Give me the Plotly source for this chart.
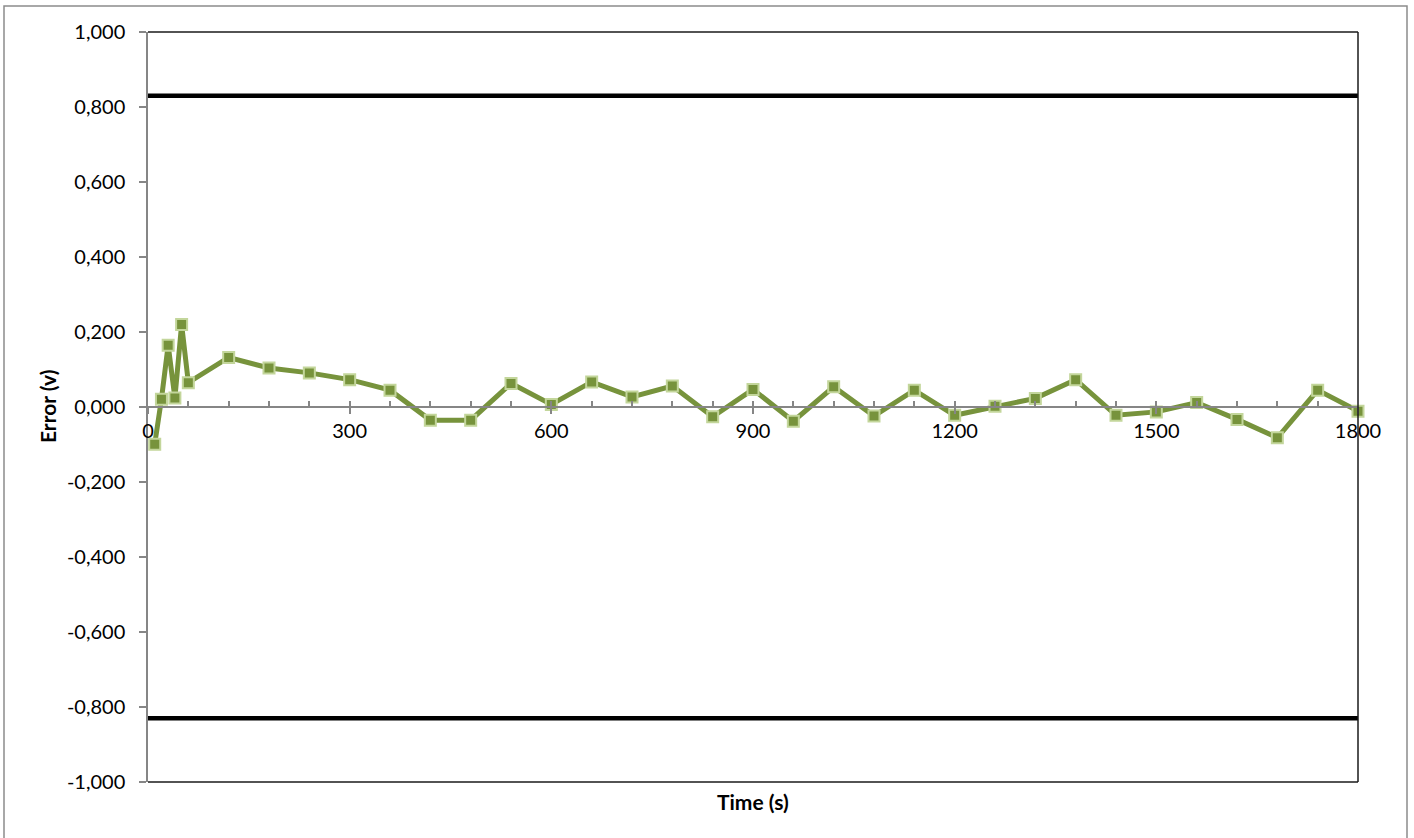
import plotly.graph_objects as go

# ---- data ----
time_s = [10, 20, 30, 40, 50, 60, 120, 180, 240, 300, 360, 420, 480, 540, 600,
          660, 720, 780, 840, 900, 960, 1020, 1080, 1140, 1200, 1260, 1320, 1380,
          1440, 1500, 1560, 1620, 1680, 1740, 1800]
error_v = [-0.099, 0.021, 0.165, 0.024, 0.220, 0.065, 0.132, 0.104, 0.091, 0.073,
           0.045, -0.035, -0.035, 0.063, 0.007, 0.067, 0.027, 0.056, -0.026, 0.047,
           -0.038, 0.054, -0.024, 0.045, -0.022, 0.002, 0.023, 0.073, -0.022, -0.013,
           0.012, -0.033, -0.082, 0.045, -0.011]
limit_upper = 0.83
limit_lower = -0.83
limit_x = [0, 1800]

x_tickvals = [0, 300, 600, 900, 1200, 1500, 1800]
x_ticktext = ["0", "300", "600", "900", "1200", "1500", "1800"]
y_tickvals = [-1.0, -0.8, -0.6, -0.4, -0.2, 0.0, 0.2, 0.4, 0.6, 0.8, 1.0]
y_ticktext = ["-1,000", "-0,800", "-0,600", "-0,400", "-0,200", "0,000",
              "0,200", "0,400", "0,600", "0,800", "1,000"]

FONT = "Lato"
GRAY = "#868686"
GREEN = "#77933C"
GREEN_EDGE = "#C3D69B"

fig = go.Figure()

fig.add_trace(go.Scatter(x=limit_x, y=[limit_upper] * 2, mode="lines",
                         line=dict(color="black", width=4.5), showlegend=False,
                         hoverinfo="skip"))
fig.add_trace(go.Scatter(x=limit_x, y=[limit_lower] * 2, mode="lines",
                         line=dict(color="black", width=4.5), showlegend=False,
                         hoverinfo="skip"))
fig.add_trace(go.Scatter(x=time_s, y=error_v, mode="lines+markers",
                         line=dict(color=GREEN, width=5),
                         marker=dict(symbol="square", size=11, color=GREEN,
                                     line=dict(color=GREEN_EDGE, width=2)),
                         showlegend=False, cliponaxis=False))

L, R, T, B = 148, 56, 32, 56
W, H = 1414, 838
pw, ph = W - L - R, H - T - B

def px(xp):
    return (xp - L) / pw

def py(yp):
    return (H - B - yp) / ph

fig.update_layout(
    width=W, height=H,
    margin=dict(l=L, r=R, t=T, b=B),
    paper_bgcolor="white", plot_bgcolor="white",
    font=dict(family=FONT, size=20, color="black"),
    showlegend=False,
    xaxis=dict(range=[0, 1800], tickvals=x_tickvals, ticktext=x_ticktext,
               ticks="outside", ticklen=6, tickwidth=1.5, tickcolor=GRAY,
               showline=True, linecolor=GRAY, linewidth=1.5,
               showgrid=False, zeroline=False,
               anchor="free", position=0.5, fixedrange=True),
    xaxis2=dict(range=[0, 1800], dtick=60, tick0=0, overlaying="x",
                ticks="inside", ticklen=6, tickwidth=1.5, tickcolor=GRAY,
                showticklabels=False, showline=False, showgrid=False,
                zeroline=False, anchor="free", position=0.5, side="bottom"),
    yaxis=dict(range=[-1, 1], tickvals=y_tickvals, ticktext=y_ticktext,
               ticks="outside", ticklen=7, tickwidth=1.5, tickcolor=GRAY,
               showline=True, linecolor=GRAY, linewidth=1.5,
               showgrid=False, zeroline=False, ticklabelstandoff=10,
               domain=[0, 1]),
)

# dummy trace to activate xaxis2
fig.add_trace(go.Scatter(x=[0, 1800], y=[None, None], xaxis="x2", yaxis="y",
                         mode="lines", showlegend=False, hoverinfo="skip"))

# plot-area border (top, right, bottom)
for x0, y0, x1, y1 in [(0, 1, 1, 1), (1, 0, 1, 1), (0, 0, 1, 0)]:
    fig.add_shape(type="line", xref="paper", yref="paper", x0=x0, y0=y0,
                  x1=x1, y1=y1, line=dict(color="#1a1a1a", width=1.5))

# outer chart border
fig.add_shape(type="rect", xref="paper", yref="paper",
              x0=px(4), x1=px(1407), y0=py(850), y1=py(6),
              line=dict(color="#8c8c8c", width=1.5))

fig.add_annotation(text="<b>Time (s)</b>", xref="paper", yref="paper",
                   x=0.5, y=py(801), showarrow=False, yanchor="middle",
                   font=dict(family=FONT, size=21, color="black"))
fig.add_annotation(text="<b>Error (v)</b>", xref="paper", yref="paper",
                   x=px(47), y=0.5, showarrow=False, textangle=-90,
                   xanchor="center", yanchor="middle",
                   font=dict(family=FONT, size=21, color="black"))

fig.write_html("out.html",
               config={"displayModeBar": False},
               post_script="document.body.style.margin='0';"
                           "document.body.style.overflow='hidden';")
